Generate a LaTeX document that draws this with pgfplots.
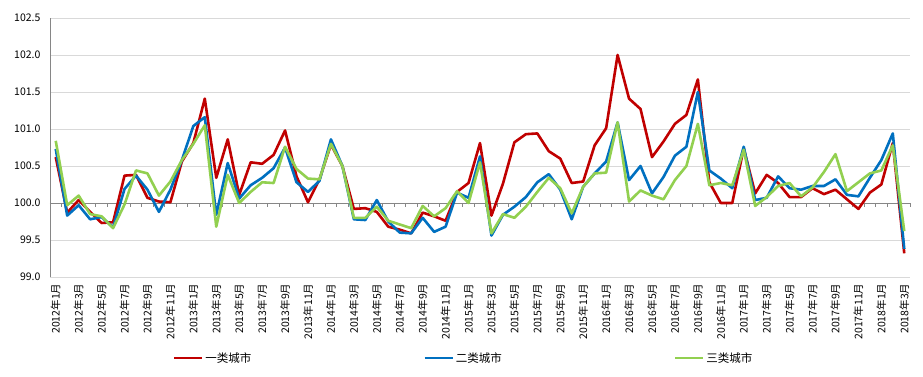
\documentclass[border=0pt]{standalone}
\usepackage{pgfplots}
\pgfplotsset{compat=1.18}
\usepackage{pgfplotstable}
\usepackage{fontspec}
\setmainfont{Noto Sans CJK SC}
\definecolor{cred}{HTML}{C00000}
\definecolor{cblue}{HTML}{0070C0}
\definecolor{cgreen}{HTML}{92D050}
\definecolor{gridc}{HTML}{D9D9D9}
\definecolor{axc}{HTML}{868686}

\pgfplotstableread{
i r b g
0 100.62 100.73 100.84
1 99.87 99.83 99.97
2 100.04 99.97 100.10
3 99.88 99.78 99.85
4 99.73 99.81 99.82
5 99.74 99.67 99.66
6 100.37 100.19 99.98
7 100.38 100.37 100.44
8 100.07 100.18 100.40
9 100.02 99.88 100.10
10 100.01 100.18 100.29
11 100.56 100.58 100.58
12 100.81 101.04 100.80
13 101.41 101.16 101.05
14 100.34 99.84 99.68
15 100.86 100.54 100.38
16 100.11 100.06 100.00
17 100.55 100.24 100.15
18 100.53 100.34 100.28
19 100.65 100.47 100.27
20 100.98 100.75 100.76
21 100.36 100.28 100.46
22 100.01 100.15 100.33
23 100.32 100.30 100.32
24 100.79 100.86 100.80
25 100.50 100.50 100.50
26 99.92 99.78 99.80
27 99.93 99.77 99.80
28 99.88 100.04 99.95
29 99.68 99.75 99.76
30 99.64 99.60 99.71
31 99.59 99.59 99.66
32 99.87 99.80 99.96
33 99.82 99.61 99.82
34 99.76 99.68 99.93
35 100.15 100.14 100.16
36 100.27 100.07 100.00
37 100.81 100.63 100.55
38 99.83 99.56 99.59
39 100.26 99.84 99.85
40 100.82 99.95 99.80
41 100.93 100.08 99.95
42 100.94 100.28 100.15
43 100.70 100.39 100.34
44 100.60 100.18 100.20
45 100.27 99.78 99.86
46 100.29 100.22 100.22
47 100.78 100.40 100.40
48 101.01 100.56 100.41
49 102.00 101.09 101.09
50 101.41 100.31 100.02
51 101.27 100.50 100.17
52 100.62 100.13 100.10
53 100.83 100.35 100.05
54 101.07 100.64 100.31
55 101.19 100.76 100.50
56 101.67 101.50 101.07
57 100.28 100.44 100.24
58 100.00 100.33 100.27
59 100.00 100.20 100.24
60 100.74 100.76 100.72
61 100.13 100.04 99.96
62 100.38 100.07 100.08
63 100.27 100.36 100.23
64 100.08 100.20 100.27
65 100.08 100.18 100.09
66 100.20 100.23 100.21
67 100.12 100.23 100.42
68 100.18 100.32 100.66
69 100.05 100.11 100.16
70 99.92 100.09 100.28
71 100.14 100.34 100.40
72 100.25 100.58 100.44
73 100.81 100.94 100.78
74 99.32 99.38 99.62
}\datatable

\begin{document}
\begin{tikzpicture}
\begin{axis}[
  name=ax, at={(0,0)}, anchor=south west,
  scale only axis, width=860bp, height=259bp,
  xmin=-0.5, xmax=74.5, ymin=99, ymax=102.5,
  ytick={99,99.5,...,102.5},
  yticklabel style={/pgf/number format/fixed,/pgf/number format/precision=1,/pgf/number format/fixed zerofill, font=\fontsize{10.5bp}{12bp}\selectfont, xshift=-6bp},
  /pgf/number format/assume math mode=true,
  xtick={0,2,...,74},
  xticklabels={2012年1月,2012年3月,2012年5月,2012年7月,2012年9月,2012年11月,
    2013年1月,2013年3月,2013年5月,2013年7月,2013年9月,2013年11月,
    2014年1月,2014年3月,2014年5月,2014年7月,2014年9月,2014年11月,
    2015年1月,2015年3月,2015年5月,2015年7月,2015年9月,2015年11月,
    2016年1月,2016年3月,2016年5月,2016年7月,2016年9月,2016年11月,
    2017年1月,2017年3月,2017年5月,2017年7月,2017年9月,2017年11月,
    2018年1月,2018年3月},
  x tick label style={rotate=90, anchor=east, font=\fontsize{10.5bp}{12bp}\selectfont, xshift=-3bp},
  major tick length=0pt,
  ymajorgrids, grid style={gridc, line width=0.8bp},
  axis line style={draw=none},
  legend style={at={(axis description cs:0.139,-0.313)}, anchor=west, draw=none, fill=none,
    legend columns=3, font=\fontsize{11.5bp}{13bp}\selectfont,
    /tikz/every even column/.append style={column sep=170bp}},
  legend image code/.code={\draw[#1] (0bp,0bp) -- (28bp,0bp);},
  clip=false,
]
\draw[axc, line width=0.8bp] (axis cs:-0.5,99) -- (axis cs:-0.5,102.5);
\draw[axc, line width=0.8bp] (axis cs:-0.5,100) -- (axis cs:74.5,100);
\pgfplotsinvokeforeach{0,...,75}{\draw[axc, line width=0.8bp] (axis cs:#1-0.5,100) -- ([yshift=-4bp]axis cs:#1-0.5,100);}
\addplot[cred, line width=2.6bp, line join=round] table[x=i,y=r]{\datatable};
\addlegendentry{一类城市}
\addplot[cblue, line width=2.6bp, line join=round] table[x=i,y=b]{\datatable};
\addlegendentry{二类城市}
\addplot[cgreen, line width=2.6bp, line join=round] table[x=i,y=g]{\datatable};
\addlegendentry{三类城市}
\end{axis}
\pgfresetboundingbox
\path (-50bp,-100bp) rectangle (873bp,277bp);
\end{tikzpicture}
\end{document}
